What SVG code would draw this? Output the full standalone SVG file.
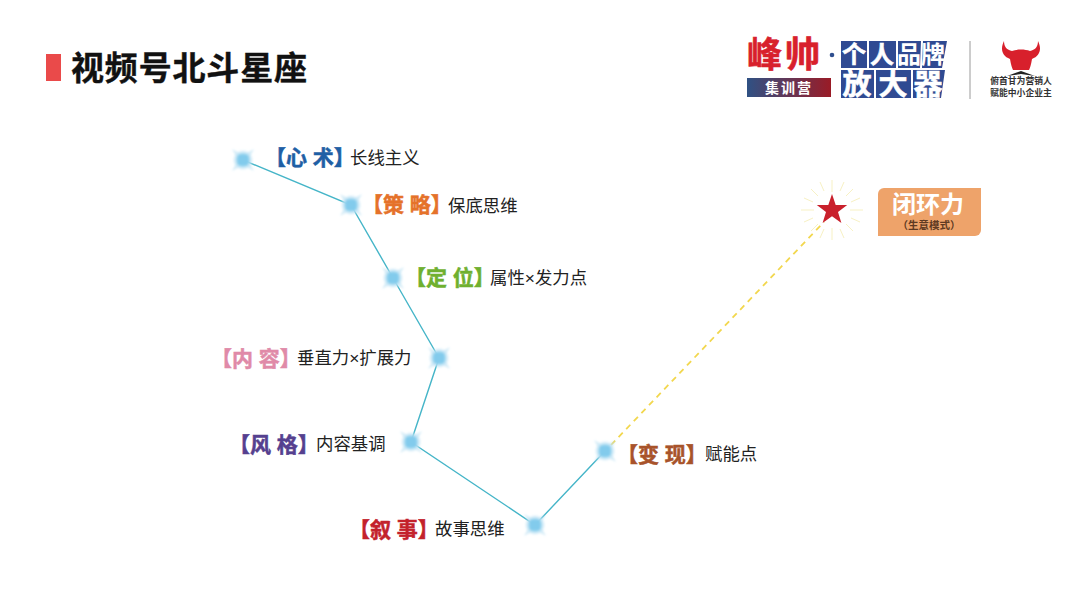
<svg xmlns="http://www.w3.org/2000/svg" width="1080" height="608" viewBox="0 0 1080 608">
<style>
text{font-family:"Liberation Sans","Noto Sans CJK SC",sans-serif}
.d{font-size:17.400px;fill:#222}
.t{font-size:21px;font-weight:700;stroke-width:.5}
.w{fill:#fff;font-weight:700;text-anchor:middle}
.link{stroke:#45b5c8;stroke-width:1.4;fill:none}
.glint{fill:#b5def3;opacity:.55}
.cell{fill:#2f4a92}
</style>
<defs>
<radialGradient id="glow"><stop offset="0" stop-color="#7cc8ea"/><stop offset=".45" stop-color="#8ed2ef"/><stop offset=".75" stop-color="#bce2f4" stop-opacity=".75"/><stop offset="1" stop-color="#d8eef9" stop-opacity="0"/></radialGradient>
<filter id="soft" x="-30%" y="-30%" width="160%" height="160%"><feGaussianBlur stdDeviation="1"/></filter>
<linearGradient id="camp" x1="0" x2="1" y1="0" y2="0"><stop offset="0" stop-color="#2f5184"/><stop offset="1" stop-color="#9a1b26"/></linearGradient>
<g id="spark" filter="url(#soft)"><path class="glint" d="M-11-11 0-5 11-11 5 0 11 11 0 5-11 11-5 0Z"/><circle r="10.500" fill="url(#glow)"/><rect x="-5.500" y="-5.500" width="11" height="11" rx="4" fill="#82cbec"/></g>
</defs>
<rect width="1080" height="608" fill="#fff"/>
<g id="title"><rect x="46" y="54" width="15" height="27" fill="#ea4a4a"/><text x="71" y="80" font-size="33" font-weight="700" fill="#111" stroke="#111" stroke-width=".4" textLength="236" lengthAdjust="spacing">视频号北斗星座</text></g>
<g id="connectors">
<polyline class="link" points="243,160 351,205 393,278 439,358 411,442 535,525 605,451"/>
<line x1="611" y1="445" x2="824" y2="222" stroke="#f2d74e" stroke-width="1.8" stroke-dasharray="6 5"/>
</g>
<g id="node-xinshu"><use href="#spark" x="243" y="160"/><text class="t" x="265" y="165" fill="#1f5fa5" stroke="#1f5fa5">【心 术】</text><text class="d" x="350" y="164">长线主义</text></g>
<g id="node-celue"><use href="#spark" x="351" y="205"/><text class="t" x="362" y="212" fill="#e5722a" stroke="#e5722a">【策 略】</text><text class="d" x="448" y="212">保底思维</text></g>
<g id="node-dingwei"><use href="#spark" x="393" y="278"/><text class="t" x="405" y="285" fill="#6fb02f" stroke="#6fb02f">【定 位】</text><text class="d" x="490" y="284">属性×发力点</text></g>
<g id="node-neirong"><use href="#spark" x="439" y="358"/><text class="t" x="211" y="366" fill="#e08aa8" stroke="#e08aa8">【内 容】</text><text class="d" x="297" y="364">垂直力×扩展力</text></g>
<g id="node-fengge"><use href="#spark" x="411" y="442"/><text class="t" x="229" y="452" fill="#55408f" stroke="#55408f">【风 格】</text><text class="d" x="316" y="450">内容基调</text></g>
<g id="node-xushi"><use href="#spark" x="535" y="525"/><text class="t" x="349" y="537" fill="#c3222c" stroke="#c3222c">【叙 事】</text><text class="d" x="435" y="535">故事思维</text></g>
<g id="node-bianxian"><use href="#spark" x="605" y="451"/><text class="t" x="617" y="462" fill="#a8532a" stroke="#a8532a">【变 现】</text><text class="d" x="705" y="460">赋能点</text></g>
<g id="node-bihuan">
<g stroke="#f7f1c4" stroke-width="1"><path d="M832 180v12M832 228v12M801 210h13M850 210h13M811 189l7 7M846 224l7 7M853 189l-7 7M818 224l-7 7M820 182l4 9M840 229l4 9M844 182l-4 9M824 229l-4 9M804 198l9 4M851 218l9 4M860 198l-9 4M813 218l-9 4"/></g>
<path d="M832 194l3.700 11 11.500.100-9.200 6.900 3.400 11-9.400-6.700-9.400 6.700 3.400-11-9.200-6.900 11.500-.100z" fill="#c9202c"/>
<path d="M884 188h97v42a6 6 0 0 1-6 6h-97v-42a6 6 0 0 1 6-6z" fill="#eea36a"/>
<text class="w" x="928" y="213" font-size="24">闭环力</text>
<text x="929" y="229" font-size="10.500" font-weight="700" fill="#5f3a22" text-anchor="middle">（生意模式）</text>
</g>
<g id="logo">
<text x="747" y="67" font-size="35" font-weight="700" fill="#d8202c" stroke="#d8202c" stroke-width=".6" letter-spacing="3">峰帅</text>
<circle cx="832" cy="55" r="2.300" fill="#2f4f8f"/>
<rect x="747" y="78" width="84" height="19" fill="url(#camp)"/>
<text class="w" x="789" y="93" font-size="14" letter-spacing="2">集训营</text>
<path class="cell" d="M841 41h26v27h-26zM869 41h27v27h-27zM898 41h23l-1 27h-22zM923 41h24l-5 27h-20z"/>
<path class="cell" d="M841 70h33v28h-33zM876 70h35v28h-35zM913 70h32l-4 28h-28z"/>
<g class="w" font-size="24"><text class="w" x="854" y="63" stroke="#fff" stroke-width=".6">个</text><text class="w" x="882" y="63" stroke="#fff" stroke-width=".6">人</text><text class="w" x="909" y="63">品</text><text class="w" x="933" y="63">牌</text></g>
<g class="w" font-size="29"><text class="w" x="857" y="95" stroke="#fff" stroke-width=".6">放</text><text class="w" x="893" y="95" stroke="#fff" stroke-width=".6">大</text><text class="w" x="928" y="95" stroke="#fff" stroke-width=".6">器</text></g>
<line x1="970" y1="41" x2="970" y2="99" stroke="#9a9a9a"/>
<path d="M1004 41c0 6 3 9 8 10 5-2 13-2 18 0 5-1 8-4 8-10 4 8 2 15-6 18-1 6-2 9-3 11h-16c-1-2-2-5-3-11-8-3-10-10-6-18z" fill="#d8202c"/>
<path d="M1007 76l14-5 14 5-14-2z" fill="#222"/>
<text x="1021" y="84" font-size="8.800" font-weight="700" fill="#333" text-anchor="middle">俯首甘为营销人</text>
<text x="1021" y="96" font-size="8.800" font-weight="700" fill="#333" text-anchor="middle">赋能中小企业主</text>
</g>
</svg>
